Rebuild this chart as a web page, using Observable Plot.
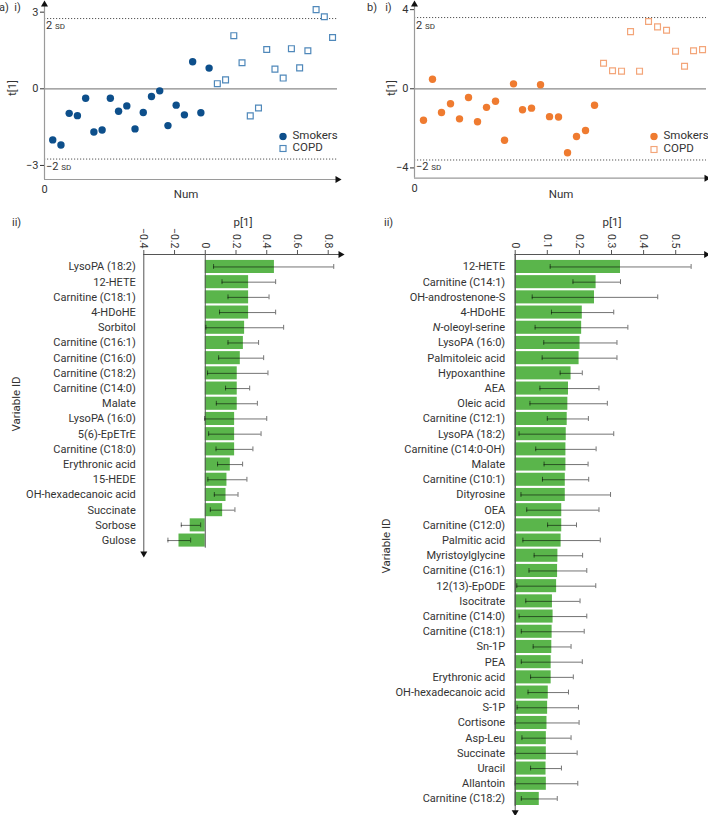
<!DOCTYPE html>
<html><head><meta charset="utf-8">
<script src="https://cdn.jsdelivr.net/npm/d3@7"></script>
<script src="https://cdn.jsdelivr.net/npm/@observablehq/plot@0.6"></script>
<style>
body{margin:0;background:#fff;font-family:Roboto,sans-serif;color:#333}
#wrap{position:relative;width:708px;height:815px;overflow:hidden;background:#fff}
.t{position:absolute;line-height:1;white-space:nowrap;color:#333;font-family:Roboto,sans-serif}
svg.pl{position:absolute;overflow:visible}
</style></head><body><div id="wrap"></div>
<script>
// ---------- data ----------
const smokersA = [-2.00,-2.20,-0.96,-1.05,-0.37,-1.69,-1.61,-0.37,-0.88,-0.67,-1.57,-0.93,-0.30,-0.08,-1.44,-0.64,-1.02,1.06,-0.94,0.81];
const copdA = [0.20,0.35,2.08,1.02,-1.06,-0.75,1.54,0.77,0.42,1.57,0.82,1.49,3.10,2.82,2.01];
const smokersB = [-1.59,0.48,-1.20,-0.76,-1.52,-0.44,-1.67,-0.94,-0.63,-2.60,0.25,-1.06,-0.98,0.20,-1.41,-1.43,-3.23,-2.41,-2.11,-0.83];
const copdB = [1.29,0.91,0.89,2.89,0.89,3.40,3.13,2.96,1.90,1.14,1.92,1.98];
const sdA = 2.75, sdB = 3.6;
const yTicksA = [-3, 0, 3], yTicksB = [-4, 0, 4];

const varsA = ["LysoPA (18:2)","12-HETE","Carnitine (C18:1)","4-HDoHE","Sorbitol","Carnitine (C16:1)","Carnitine (C16:0)","Carnitine (C18:2)","Carnitine (C14:0)","Malate","LysoPA (16:0)","5(6)-EpETrE","Carnitine (C18:0)","Erythronic acid","15-HEDE","OH-hexadecanoic acid","Succinate","Sorbose","Gulose"];
const pA  = [0.45,0.282,0.282,0.282,0.256,0.248,0.228,0.208,0.208,0.208,0.191,0.191,0.191,0.163,0.141,0.135,0.113,-0.098,-0.171];
const loA = [0.054,0.109,0.148,0.093,0.004,0.148,0.087,0.015,0.132,0.072,-0.004,0.022,0.07,0.08,0.017,0.059,0.033,-0.156,-0.243];
const hiA = [0.836,0.458,0.415,0.458,0.51,0.347,0.38,0.408,0.289,0.339,0.4,0.363,0.31,0.243,0.271,0.213,0.193,-0.03,-0.095];
const ticksA = [-0.4,-0.2,0,0.2,0.4,0.6,0.8];

const varsB = ["12-HETE","Carnitine (C14:1)","OH-androstenone-S","4-HDoHE","N-oleoyl-serine","LysoPA (16:0)","Palmitoleic acid","Hypoxanthine","AEA","Oleic acid","Carnitine (C12:1)","LysoPA (18:2)","Carnitine (C14:0-OH)","Malate","Carnitine (C10:1)","Dityrosine","OEA","Carnitine (C12:0)","Palmitic acid","Myristoylglycine","Carnitine (C16:1)","12(13)-EpODE","Isocitrate","Carnitine (C14:0)","Carnitine (C18:1)","Sn-1P","PEA","Erythronic acid","OH-hexadecanoic acid","S-1P","Cortisone","Asp-Leu","Succinate","Uracil","Allantoin","Carnitine (C18:2)"];
const pB  = [0.328,0.252,0.247,0.209,0.207,0.202,0.199,0.174,0.166,0.164,0.162,0.159,0.158,0.158,0.156,0.156,0.145,0.145,0.143,0.133,0.132,0.129,0.116,0.118,0.115,0.114,0.112,0.112,0.103,0.101,0.099,0.097,0.097,0.096,0.097,0.075];
const loB = [0.109,0.18,0.053,0.113,0.062,0.089,0.084,0.14,0.077,0.046,0.1,0.012,0.064,0.09,0.085,0.018,0.036,0.101,0.024,0.059,0.043,0.005,0.033,0.012,0.019,0.056,0.019,0.048,0.04,0.006,0,0.021,0,0.048,0,0.019];
const hiB = [0.548,0.328,0.444,0.307,0.351,0.317,0.317,0.209,0.261,0.287,0.228,0.307,0.252,0.227,0.229,0.297,0.261,0.191,0.265,0.21,0.223,0.251,0.202,0.223,0.215,0.174,0.209,0.181,0.166,0.197,0.199,0.174,0.193,0.144,0.195,0.131];
const ticksB = [0,0.1,0.2,0.3,0.4,0.5];

const blue = "#0d4f8b", blueLight = "#4f88ba", orange = "#ef7b30", orangeLight = "#f3a579", green = "#5ab54b";

// ---------- helpers ----------
const wrap = document.getElementById("wrap");
const fmt = d => (d < 0 ? "\u2212" + (-d) : String(d));
function place(svg, left, top) {
  svg.classList.add("pl");
  svg.style.left = left + "px"; svg.style.top = top + "px";
  wrap.appendChild(svg);
}
function addText(html, x, y, {anchor = "start", rotate = 0, size = 11} = {}) {
  const d = document.createElement("div");
  d.className = "t"; d.innerHTML = html;
  d.style.left = x + "px"; d.style.top = y + "px"; d.style.fontSize = size + "px";
  const tx = anchor === "start" ? "0" : anchor === "middle" ? "-50%" : "-100%";
  d.style.transform = `translate(${tx},-50%)` + (rotate ? ` rotate(${rotate}deg)` : "");
  wrap.appendChild(d);
}

function scatter({smokers, copd, fill, stroke, yDomain, xMax, marginLeft, marginRight, marginBottom, sd, yTicks}) {
  const s = smokers.map((v, i) => ({i: i + 1, v}));
  const c = copd.map((v, i) => ({i: smokers.length + i + 1, v}));
  return Plot.plot({
    width: 354, height: 200, marginTop: 4, marginBottom, marginLeft, marginRight,
    x: {domain: [0, xMax], axis: null},
    y: {domain: yDomain, axis: null},
    style: {fontFamily: "Roboto, sans-serif", fontSize: "11px", color: "#333", background: "transparent"},
    marks: [
      Plot.ruleY([sd, -sd], {stroke: "#555", strokeDasharray: "1.2,1.8", strokeWidth: 1}),
      Plot.ruleY([0], {stroke: "#8a8a8a", strokeWidth: 1.2}),
      Plot.ruleX([0], {stroke: "#9a9a9a", strokeWidth: 1.2}),
      Plot.ruleY([yDomain[0]], {stroke: "#9a9a9a", strokeWidth: 1.2}),
      Plot.axisY({ticks: yTicks, tickSize: 4, tickPadding: 2, tickFormat: fmt, label: null, fontSize: 11}),
      Plot.axisX({ticks: [0], tickSize: 0, tickPadding: 6, tickFormat: fmt, label: null, fontSize: 11}),
      Plot.dot(s, {x: "i", y: "v", r: 3.7, fill, stroke: "none"}),
      Plot.dot(c, {x: "i", y: "v", symbol: "square", r: 3.3, stroke, fill: "white", strokeWidth: 1.2}),
      Plot.dot([{x: xMax, y: yDomain[0]}], {x: "x", y: "y", symbol: "triangle", rotate: 90, r: 2.6, fill: "#111", stroke: "none"}),
      Plot.dot([{x: 0, y: yDomain[1]}], {x: "x", y: "y", symbol: "triangle", r: 2.6, fill: "#111", stroke: "none"})
    ]
  });
}

function bars({vars, p, lo, hi, marginLeft, marginRight, xDomain, ticks, labelDx, yBot}) {
  const rows = vars.map((name, i) => ({name, i, p: p[i], lo: lo[i], hi: hi[i]}));
  const step = 15.2, marginTop = 54, yTop = -0.82;
  const frameH = (yBot - yTop) * step;
  const height = Math.ceil(marginTop + frameH + 6);
  const n = vars.length;
  return Plot.plot({
    width: 354, height, marginTop, marginBottom: height - marginTop - frameH, marginLeft, marginRight,
    x: {domain: xDomain, axis: null},
    y: {domain: [yTop, yBot], reverse: true, axis: null},
    style: {fontFamily: "Roboto, sans-serif", fontSize: "11px", color: "#333", background: "transparent"},
    marks: [
      Plot.rectX(rows, {x1: 0, x2: "p", y1: d => d.i - 0.43, y2: d => d.i + 0.43, fill: green}),
      Plot.ruleX([0], {y1: yTop, y2: n - 0.5, stroke: "#555", strokeWidth: 1}),
      Plot.ruleY(rows, {y: "i", x1: "lo", x2: "hi", stroke: "#000", strokeOpacity: 0.55, strokeWidth: 1}),
      Plot.ruleX(rows, {x: "lo", y1: d => d.i - 0.16, y2: d => d.i + 0.16, stroke: "#000", strokeOpacity: 0.55, strokeWidth: 1}),
      Plot.ruleX(rows, {x: "hi", y1: d => d.i - 0.16, y2: d => d.i + 0.16, stroke: "#000", strokeOpacity: 0.55, strokeWidth: 1}),
      Plot.ruleY([yTop], {stroke: "#555", strokeWidth: 1}),
      Plot.ruleX([xDomain[0]], {stroke: "#555", strokeWidth: 1}),
      Plot.axisX({anchor: "top", ticks, tickSize: 5, tickFormat: () => "", label: null, stroke: "#555"}),
      Plot.text(ticks, {x: d => d, y: yTop, text: fmt, rotate: 90, textAnchor: "end", dy: -6, fontSize: 10.5, fill: "#333"}),
      Plot.text(rows, {x: xDomain[0], y: "i", text: "name", textAnchor: "end", dx: labelDx, fontSize: 11, fill: "#333"}),
      Plot.dot([{x: xDomain[1], y: yTop}], {x: "x", y: "y", symbol: "triangle", rotate: 90, r: 2.6, fill: "#111", stroke: "none"}),
      Plot.dot([{x: xDomain[0], y: yBot}], {x: "x", y: "y", symbol: "triangle", rotate: 180, r: 2.6, fill: "#111", stroke: "none"})
    ]
  });
}

// ---------- panels ----------
place(scatter({smokers: smokersA, copd: copdA, fill: blue, stroke: blueLight,
  yDomain: [-3.55, 3.3], xMax: 35.6, marginLeft: 44, marginRight: 17, marginBottom: 21, sd: sdA, yTicks: yTicksA}), 0, 0);
place(scatter({smokers: smokersB, copd: copdB, fill: orange, stroke: orangeLight,
  yDomain: [-4.52, 4.26], xMax: 32.44, marginLeft: 60, marginRight: 2, marginBottom: 22.3, sd: sdB, yTicks: yTicksB}), 354, 0);

place(bars({vars: varsA, p: pA, lo: loA, hi: hiA, marginLeft: 143.3, marginRight: 14, xDomain: [-0.4, 0.88], ticks: ticksA, labelDx: -8, yBot: 18.85}), 0, 200);
const svgB = bars({vars: varsB, p: pB, lo: loB, hi: hiB, marginLeft: 160.7, marginRight: 2.3, xDomain: [0, 0.595], ticks: ticksB, labelDx: -10, yBot: 35.87});
d3.select(svgB).selectAll("text").filter(function () { return this.textContent === "N-oleoyl-serine"; })
  .each(function () { const t = d3.select(this); t.text(null); t.append("tspan").attr("font-style", "italic").text("N"); t.append("tspan").text("-oleoyl-serine"); });
place(svgB, 354, 200);

// ---------- annotations ----------
addText("a)&nbsp; i)", -1, 7);
addText("b)&nbsp;&nbsp; i)", 367, 7);
addText("t[1]", 12, 88, {anchor: "middle", rotate: -90});
addText("t[1]", 391, 88, {anchor: "middle", rotate: -90});
addText("Num", 186, 195, {anchor: "middle", size: 11.5});
addText("Num", 561, 195, {anchor: "middle", size: 11.5});
addText('2 <span style="font-size:8px">SD</span>', 46, 25);
addText('\u22122 <span style="font-size:8px">SD</span>', 46, 165.5);
addText('2 <span style="font-size:8px">SD</span>', 416, 25);
addText('\u22122 <span style="font-size:8px">SD</span>', 416, 165.5);
// legends
function legend(x, y, fill, stroke) {
  addText(`<svg width="8" height="8" style="vertical-align:middle"><circle cx="4" cy="4" r="3.7" fill="${fill}"/></svg>`, x - 4, y);
  addText("Smokers", x + 9.5, y, {size: 11.5});
  addText(`<svg width="8" height="8" style="vertical-align:middle"><rect x="1" y="1" width="6" height="6" fill="white" stroke="${stroke}" stroke-width="1.2"/></svg>`, x - 4, y + 12.5);
  addText("COPD", x + 9.5, y + 12.5, {size: 11.5});
}
legend(283, 135.7, blue, blueLight);
legend(654, 136, orange, orangeLight);

addText("ii)", 12, 222);
addText("ii)", 384, 222);
addText("p[1]", 243, 222.5, {anchor: "middle", size: 11.5});
addText("p[1]", 612, 222.5, {anchor: "middle", size: 11.5});
addText("Variable ID", 17, 404, {anchor: "middle", rotate: -90, size: 11.5});
addText("Variable ID", 387, 546, {anchor: "middle", rotate: -90, size: 11.5});
</script></body></html>
